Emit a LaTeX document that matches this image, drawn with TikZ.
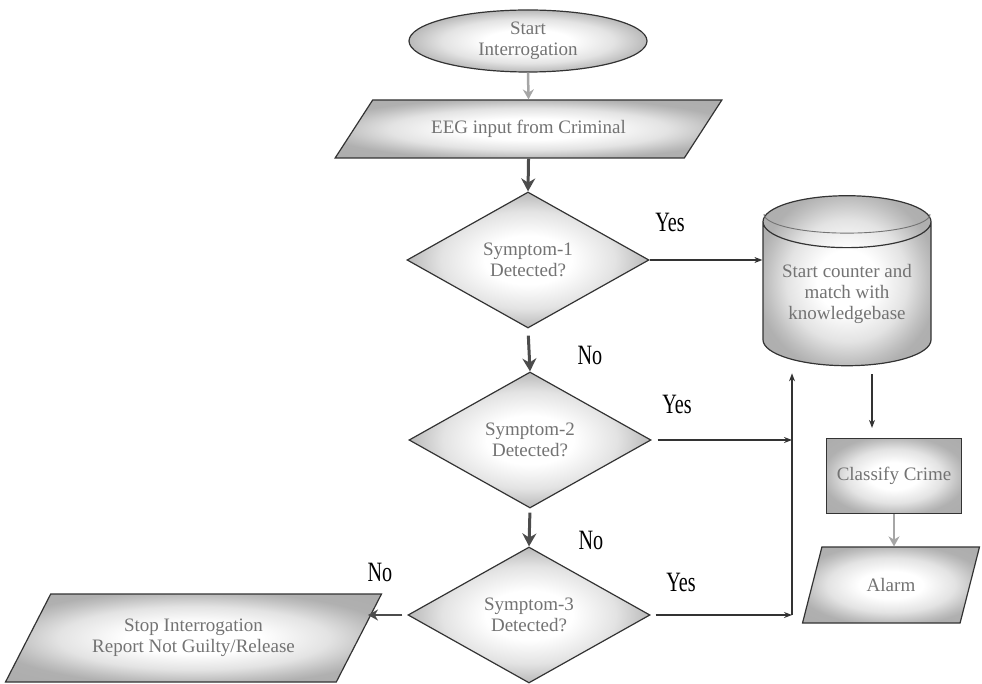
\documentclass[tikz,border=0pt]{standalone}
\usepackage{fontspec}
\setmainfont{Liberation Serif}
\newfontfamily\lblfont[FakeStretch=0.72]{Liberation Serif}
\usetikzlibrary{shapes.geometric,arrows.meta}
\pgfdeclareradialshading{softgray}{\pgfpoint{0bp}{0bp}}{%
  color(0bp)=(white); color(9bp)=(white); color(18bp)=(gray!22);
  color(24bp)=(gray!50); color(27bp)=(gray!62); color(50bp)=(gray!70)}
\begin{document}
\begin{tikzpicture}[x=1pt,y=-1pt,
  box/.style={shading=softgray, draw=black!80, line width=1.2pt,
    font=\fontsize{19}{21}\selectfont, text=black!55, align=center, inner sep=0pt},
  dia/.style={box, diamond, aspect=1.8, minimum width=242, minimum height=136},
  lbl/.style={font=\lblfont\fontsize{28}{30}\selectfont, text=black, inner sep=0pt},
  thinarr/.style={-{Stealth[length=8pt,width=6pt]}, line width=1.3pt, draw=black!80},
  bigarr/.style={-{Stealth[length=13pt,width=14pt]}, line width=3pt, draw=black!70},
  grayarr/.style={-{Stealth[length=10pt,width=11pt]}, line width=2.5pt, draw=gray!70}
]
\useasboundingbox (0,0) rectangle (982,684);

% nodes
\node[box, ellipse, minimum width=238, minimum height=62] (start) at (528,41) {Start\\Interrogation};
\node[box, trapezium, trapezium stretches=true, trapezium left angle=36.6, trapezium right angle=143.4,
      minimum width=387, minimum height=58] (eeg) at (528.5,129) {EEG input from Criminal};
\node[dia] (d1) at (528,260) {Symptom-1\\Detected?};
\node[dia] (d2) at (530,440) {Symptom-2\\Detected?};
\node[dia] (d3) at (529,615) {Symptom-3\\Detected?};
\node[box, cylinder, shape border rotate=90, aspect=0.4, minimum width=168, minimum height=170] (cyl) at (847,294)
      {Start counter and\\match with\\knowledgebase};
\draw[line width=0.9pt, draw=black!55] ([xshift=-83pt,yshift=-19pt]cyl.north)
      arc[start angle=180, end angle=0, x radius=83, y radius=19];
\node[box, rectangle, minimum width=135, minimum height=75] (cls) at (894,476) {Classify Crime};
\node[box, trapezium, trapezium stretches=true, trapezium left angle=63, trapezium right angle=117,
      minimum width=178, minimum height=76] (alarm) at (891,585) {Alarm};
\node[box, trapezium, trapezium stretches=true, trapezium left angle=49.6, trapezium right angle=130.4,
      minimum width=377, minimum height=88] (stop) at (193.5,638) {Stop Interrogation\\Report Not Guilty/Release};

% labels
\node[lbl] (y1) at (670,222) {Yes};
\node[lbl] (n1) at (590,355) {No};
\node[lbl] (y2) at (677,404) {Yes};
\node[lbl] (n2) at (591,540) {No};
\node[lbl] (y3) at (681,582) {Yes};
\node[lbl] (n3) at (380,572) {No};

% helper coordinates
\coordinate (jx) at (792,0);
\coordinate (cx) at (872,0);
\coordinate (sx) at (368,0);

% connectors
\draw[grayarr] (start.south) -- (eeg.north);
\draw[bigarr] (eeg.south) -- (d1.north);
\draw[thinarr] (d1.east) -- (d1.east -| cyl.180);
\draw[bigarr, shorten <=7pt] (d1.south) -- (d2.north);
\draw[bigarr, shorten <=4pt] (d2.south) -- (d3.north);
\draw[thinarr, shorten <=6pt] (d2.east) -- (d2.east -| jx);
\draw[thinarr, shorten <=5pt] (d3.east) -- (d3.east -| jx);
\draw[thinarr, line width=1.5pt, shorten >=7pt] (d3.east -| jx) -- (jx |- cyl.south);
\draw[grayarr, draw=black!70, line width=2.5pt, shorten <=5pt] (d3.west) -- (d3.west -| sx);
\draw[thinarr, shorten <=8pt, shorten >=10pt] (cx |- cyl.south) -- (cx |- cls.north);
\draw[grayarr] (cls.south) -- (cls.south |- alarm.north);
\end{tikzpicture}
\end{document}
